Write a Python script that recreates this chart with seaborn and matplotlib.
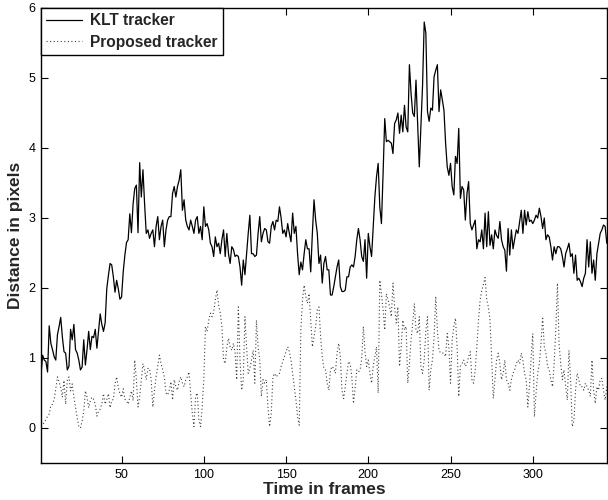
import numpy as np
import pandas as pd
import matplotlib
matplotlib.use('Agg')
import matplotlib.pyplot as plt
import seaborn as sns

# distance per frame
klt = [
    0.75, 1.04, 0.97, 0.95, 0.80, 1.46, 1.21, 1.12, 1.02, 0.97,
    1.33, 1.45, 1.58, 1.30, 1.09, 1.07, 0.83, 0.88, 1.41, 1.26,
    1.48, 1.12, 1.07, 0.97, 0.83, 0.87, 1.26, 0.90, 1.12, 1.38,
    1.12, 1.31, 1.29, 1.41, 1.14, 1.38, 1.63, 1.48, 1.38, 1.50,
    1.99, 2.18, 2.35, 2.33, 2.16, 1.94, 2.11, 1.99, 1.84, 1.87,
    2.23, 2.47, 2.65, 2.69, 3.06, 2.79, 3.20, 3.42, 3.47, 2.79,
    3.79, 3.30, 3.69, 3.20, 2.78, 2.83, 2.71, 2.78, 2.83, 2.59,
    2.88, 3.02, 2.69, 2.88, 2.97, 2.59, 2.83, 2.97, 3.02, 3.02,
    3.35, 3.45, 3.30, 3.45, 3.54, 3.69, 3.11, 3.26, 2.97, 2.88,
    2.83, 2.97, 2.88, 2.78, 2.97, 3.02, 2.78, 2.88, 2.69, 3.16,
    2.88, 2.92, 2.83, 2.64, 2.59, 2.45, 2.73, 2.59, 2.64, 2.49,
    2.69, 2.83, 2.45, 2.78, 2.49, 2.35, 2.59, 2.55, 2.45, 2.47,
    2.45, 2.30, 2.04, 2.40, 2.19, 2.49, 2.78, 3.04, 2.49, 2.49,
    2.45, 2.47, 2.78, 3.02, 2.66, 2.78, 2.85, 2.83, 2.66, 2.64,
    2.88, 2.95, 2.83, 2.97, 2.95, 3.16, 3.00, 2.78, 2.83, 2.73,
    2.92, 2.78, 2.66, 3.07, 2.78, 2.88, 2.49, 2.19, 2.37, 2.26,
    2.49, 2.69, 2.56, 2.56, 2.23, 2.78, 3.26, 2.97, 2.78, 2.35,
    2.47, 2.07, 2.35, 2.45, 2.26, 2.26, 1.90, 1.90, 2.02, 2.16,
    2.30, 2.40, 2.02, 1.95, 1.95, 1.97, 2.16, 2.16, 2.30, 2.33,
    2.30, 2.45, 2.69, 2.85, 2.69, 2.45, 2.38, 2.69, 2.14, 2.78,
    2.59, 2.45, 2.88, 3.30, 3.59, 3.78, 3.16, 2.92, 3.64, 4.42,
    4.09, 4.11, 4.09, 4.07, 3.92, 4.35, 4.40, 4.50, 4.21, 4.47,
    4.23, 4.61, 4.30, 4.23, 5.19, 4.78, 4.50, 4.45, 4.97, 4.35,
    3.73, 4.30, 4.90, 5.80, 5.64, 4.52, 4.38, 4.57, 4.54, 5.02,
    5.11, 5.19, 4.52, 4.83, 4.69, 4.54, 4.07, 3.73, 3.61, 3.78,
    3.45, 3.33, 3.88, 3.78, 4.28, 3.28, 3.45, 3.40, 2.97, 3.35,
    3.52, 2.92, 2.83, 2.90, 2.97, 2.56, 2.69, 2.66, 2.83, 2.56,
    3.07, 2.59, 3.09, 2.61, 2.76, 2.56, 2.83, 2.75, 2.71, 2.95,
    2.69, 2.59, 2.54, 2.24, 2.85, 2.47, 2.83, 2.56, 2.70, 2.83,
    2.78, 2.95, 3.11, 2.78, 3.11, 2.90, 3.09, 2.95, 2.97, 2.92,
    2.97, 3.04, 3.00, 3.14, 3.02, 2.85, 3.00, 2.69, 2.76, 2.73,
    2.59, 2.40, 2.59, 2.49, 2.59, 2.59, 2.56, 2.45, 2.30, 2.49,
    2.56, 2.64, 2.45, 2.49, 2.21, 2.47, 2.11, 2.14, 2.09, 2.02,
    2.14, 2.21, 2.69, 2.30, 2.66, 2.21, 2.40, 2.11, 2.49, 2.64,
    2.78, 2.83, 2.90, 2.88, 2.64,
]

proposed = [
    0.02, 0.05, 0.08, 0.12, 0.17, 0.20, 0.32, 0.34, 0.41, 0.56,
    0.73, 0.66, 0.58, 0.44, 0.68, 0.34, 0.68, 0.73, 0.53, 0.63,
    0.44, 0.29, 0.15, 0.02, 0.00, 0.10, 0.24, 0.53, 0.44, 0.29,
    0.39, 0.44, 0.41, 0.34, 0.17, 0.24, 0.27, 0.34, 0.49, 0.34,
    0.41, 0.49, 0.29, 0.39, 0.41, 0.63, 0.73, 0.58, 0.49, 0.44,
    0.56, 0.41, 0.39, 0.34, 0.44, 0.53, 0.39, 0.97, 0.69, 0.30,
    0.45, 0.69, 0.92, 0.83, 0.69, 0.85, 0.85, 0.69, 0.30, 0.54,
    0.73, 0.88, 1.04, 0.92, 0.83, 0.73, 0.50, 0.47, 0.54, 0.66,
    0.40, 0.69, 0.59, 0.54, 0.66, 0.73, 0.64, 0.59, 0.69, 0.73,
    0.80, 0.49, 0.21, 0.02, 0.45, 0.50, 0.11, 0.02, 0.30, 0.69,
    1.45, 1.38, 1.54, 1.64, 1.59, 1.66, 1.83, 1.97, 1.76, 1.64,
    1.45, 0.97, 0.92, 1.16, 1.28, 1.16, 1.11, 1.21, 1.07, 0.69,
    1.73, 0.97, 0.54, 0.69, 1.59, 1.16, 0.78, 0.85, 0.97, 1.11,
    0.64, 1.54, 1.16, 0.97, 0.45, 0.69, 0.64, 0.69, 0.30, 0.02,
    0.21, 0.73, 0.78, 0.73, 0.76, 0.78, 0.88, 0.95, 1.02, 1.09,
    1.16, 1.09, 0.97, 0.78, 0.59, 0.40, 0.16, 0.04, 1.40, 1.83,
    2.04, 1.88, 1.78, 1.92, 1.54, 1.16, 1.31, 1.45, 1.69, 1.73,
    1.31, 1.02, 0.85, 0.83, 0.64, 0.54, 0.83, 0.88, 0.85, 0.78,
    1.07, 1.21, 1.02, 0.54, 0.42, 0.59, 0.78, 0.95, 0.92, 0.73,
    0.35, 0.57, 0.83, 0.80, 0.83, 0.99, 1.45, 1.09, 0.88, 0.97,
    0.78, 0.64, 0.88, 1.02, 1.16, 0.50, 2.11, 1.92, 1.69, 1.40,
    1.92, 1.83, 1.73, 1.59, 2.07, 1.73, 1.50, 1.73, 0.88, 1.16,
    1.54, 1.40, 1.45, 0.64, 0.92, 1.26, 1.50, 1.78, 1.40, 1.35,
    1.59, 0.88, 0.78, 0.97, 1.40, 1.59, 0.54, 0.83, 0.97, 1.30,
    1.88, 1.40, 1.11, 1.07, 1.07, 1.07, 1.02, 1.35, 1.16, 0.64,
    1.26, 1.45, 1.57, 1.16, 0.45, 0.88, 0.92, 0.97, 0.88, 0.92,
    1.02, 1.09, 0.69, 0.64, 0.83, 1.16, 1.54, 1.83, 1.97, 2.05,
    2.15, 1.83, 1.73, 1.54, 1.00, 0.42, 0.69, 0.97, 1.07, 0.92,
    0.69, 0.78, 0.97, 0.69, 0.64, 0.54, 0.69, 0.78, 0.83, 0.92,
    0.97, 0.92, 1.07, 0.97, 0.78, 0.69, 0.30, 0.60, 1.00, 1.35,
    0.16, 0.50, 0.78, 0.92, 1.21, 1.59, 1.16, 1.07, 0.88, 0.83,
    0.69, 0.59, 0.92, 1.40, 2.07, 1.20, 0.92, 0.69, 0.83, 0.59,
    0.40, 1.11, 0.69, 0.02, 0.10, 0.54, 0.78, 0.69, 0.59, 0.59,
    0.54, 0.64, 0.59, 0.54, 0.45, 0.97, 0.54, 0.35, 0.59, 0.54,
    0.69, 0.71, 0.54, 0.40, 0.59,
]

frames = np.arange(1, len(klt) + 1)
x_ticks = [50, 100, 150, 200, 250, 300]
y_ticks = [0, 1, 2, 3, 4, 5, 6]

df = pd.DataFrame({'frame': frames, 'KLT tracker': klt, 'Proposed tracker': proposed})

sns.set_style('ticks')
plt.rcParams['font.family'] = ['Liberation Sans', 'DejaVu Sans']

fig = plt.figure(figsize=(6.08, 5.0), dpi=100)
ax = fig.add_axes([0.0674, 0.074, 0.9306, 0.91])

sns.lineplot(data=df, x='frame', y='KLT tracker', ax=ax, color='black',
             linewidth=0.9, label='KLT tracker')
sns.lineplot(data=df, x='frame', y='Proposed tracker', ax=ax, color='0.25',
             linewidth=0.8, linestyle=(0, (1, 2.2)), label='Proposed tracker')

ax.set_xlim(1, 345)
ax.set_ylim(-0.5, 6)
ax.set_xticks(x_ticks)
ax.set_yticks(y_ticks)
ax.tick_params(direction='in', length=5, width=0.8, top=True, right=True,
               labelsize=9, colors='black', pad=4)
for s in ax.spines.values():
    s.set_visible(True)
    s.set_linewidth(1.0)
    s.set_color('black')

ax.set_xlabel('Time in frames', fontsize=12.5, fontweight='bold', labelpad=1)
ax.set_ylabel('Distance in pixels', fontsize=12.5, fontweight='bold', labelpad=4)

leg = ax.legend(loc='upper left', borderaxespad=0, fancybox=False,
                frameon=True, prop={'weight': 'bold', 'size': 11.2},
                handlelength=2.3, handletextpad=0.5, borderpad=0.35,
                labelspacing=0.4)
leg.get_frame().set_edgecolor('black')
leg.get_frame().set_linewidth(1.0)
leg.get_frame().set_alpha(1)

fig.savefig('out.png', dpi=100)
